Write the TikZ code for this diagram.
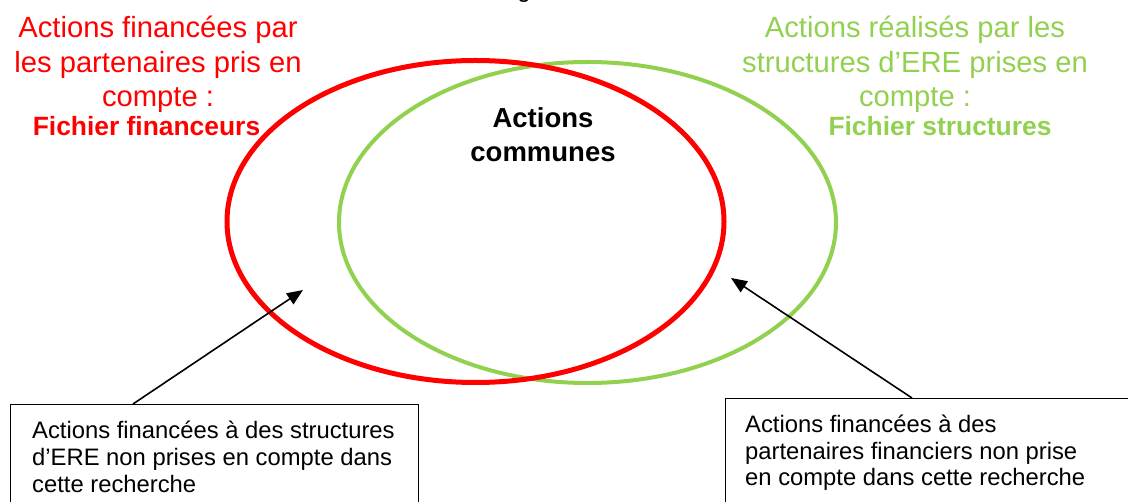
\documentclass[tikz,border=0pt]{standalone}
\usepackage{fontspec}
\setmainfont{Liberation Sans}
\usetikzlibrary{arrows.meta,shapes.geometric,calc}
\definecolor{redc}{RGB}{255,0,0}
\definecolor{greenc}{RGB}{146,208,80}
\begin{document}
\begin{tikzpicture}[x=1pt,y=-1pt,
  bigtxt/.style={font=\fontsize{29.2}{34.5}\selectfont, inner sep=0, anchor=base, align=center},
  bigbold/.style={font=\fontsize{26.4}{30}\selectfont\bfseries, inner sep=0, anchor=base},
  midbold/.style={font=\fontsize{27.5}{34}\selectfont\bfseries, inner sep=0, anchor=base, align=center},
  boxtxt/.style={font=\fontsize{23.8}{27}\selectfont, inner sep=0, anchor=base west, align=left},
  set/.style={ellipse, inner sep=0, fill=none},
  notebox/.style={draw=black, line width=1.3pt, anchor=north west, inner sep=0},
  pointer/.style={draw=black, line width=1.6pt, -{Triangle[length=16pt,width=13pt]}}
]
\useasboundingbox (0,0) rectangle (1128,502);
% cut-off text at the top
\node[font=\fontsize{24}{28}\selectfont, inner sep=0, anchor=base] (cut) at (524,-2) {g};
% sets
\node[set, draw=greenc, line width=4pt, minimum width=497pt, minimum height=321pt] (green) at (587.5,222.5) {};
\node[set, draw=redc, line width=5pt, minimum width=497pt, minimum height=322pt] (red) at (475.5,221.5) {};
% labels (anchor base = last line)
\node[bigtxt, text=redc] (redlab) at (158,107) {Actions financées par\\les partenaires pris en\\compte :};
\node[bigbold, text=redc] (redfile) at (146.5,136) {Fichier financeurs};
\node[bigtxt, text=greenc] (greenlab) at (915,107) {Actions réalisés par les\\structures d’ERE prises en\\compte :};
\node[bigbold, text=greenc] (greenfile) at (940,136) {Fichier structures};
\node[midbold] (common) at (543,162) {Actions\\communes};
% boxes
\node[notebox, minimum width=408pt, minimum height=130pt] (lbox) at (10,404) {};
\node[notebox, minimum width=430pt, minimum height=130pt] (rbox) at (725,398) {};
\node[boxtxt] (ltext) at (32,493) {Actions financées à des structures\\d’ERE non prises en compte dans\\cette recherche};
\node[boxtxt] (rtext) at (745,486) {Actions financées à des\\partenaires financiers non prise\\en compte dans cette recherche};
% pointers
\coordinate (la) at ($(lbox.north west)+(123,0)$);
\coordinate (ra) at ($(rbox.north west)+(187,0)$);
\coordinate (lt) at (303,290);
\coordinate (rt) at (731,278);
\draw[pointer] (la) -- (lt);
\draw[pointer] (ra) -- (rt);
\end{tikzpicture}
\end{document}
